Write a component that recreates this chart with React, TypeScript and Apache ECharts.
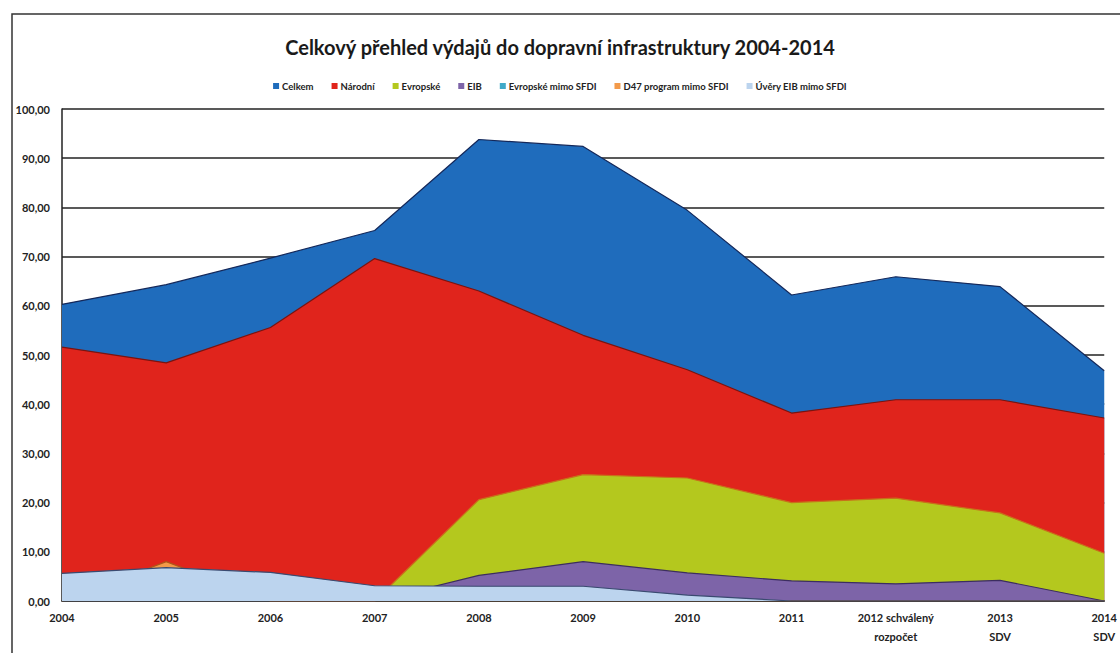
import React, { useEffect, useRef } from "react";
import * as echarts from "echarts";

const categories = ["2004", "2005", "2006", "2007", "2008", "2009", "2010", "2011", "2012 schválený\nrozpočet", "2013\nSDV", "2014\nSDV"];
const seriesNames = ["Celkem", "Národní", "Evropské", "EIB", "Evropské mimo SFDI", "D47 program mimo SFDI", "Úvěry EIB mimo SFDI"];
const celkem = [60.3, 64.3, 69.7, 75.3, 93.8, 92.4, 79.4, 62.2, 65.9, 63.9, 46.8];
const narodni = [51.6, 48.4, 55.6, 69.6, 63.0, 54.0, 47.0, 38.2, 40.9, 40.9, 37.2];
const evropske = [0, 0, 0, 0, 20.6, 25.7, 25.0, 20.0, 20.9, 17.9, 9.7];
const eib = [0, 0, 0, 0, 5.2, 8.0, 5.7, 4.1, 3.5, 4.2, 0];
const evropskeMimo = [0, 0, 0, 0, 0, 0, 0, 0, 0, 0, 0];
const d47 = [0, 8.0, 0, 0, 0, 0, 0, 0, 0, 0, 0];
const uvery = [5.6, 6.8, 5.8, 3.1, 3.0, 3.0, 1.2, 0, 0, 0, 0];
const yTicks = [0, 10, 20, 30, 40, 50, 60, 70, 80, 90, 100];

const fills = ["#1f6cbc", "#e0241c", "#b4c81e", "#7d64a8", "#3fa9c9", "#f39a4a", "#bcd4ee"];
const edges = ["#14285a", "#7a1410", "#c8701a", "#3c2d60", "#1f5a70", "#b0561a", "#3a4a70"];
const dataSets = [celkem, narodni, evropske, eib, evropskeMimo, d47, uvery];

const FONT = "Lato, 'Open Sans', sans-serif";

export default function App() {
  const ref = useRef<HTMLDivElement>(null);
  useEffect(() => {
    if (!ref.current) return;
    const chart = echarts.init(ref.current, undefined, { renderer: "svg" });
    chart.setOption({
      animation: false,
      backgroundColor: "#ffffff",
      title: {
        text: "Celkový přehled výdajů do dopravní infrastruktury 2004-2014",
        left: "center",
        top: 32,
        textStyle: { fontFamily: FONT, fontSize: 20, fontWeight: "bold", color: "#1a1a1a" },
      },
      legend: {
        top: 76,
        left: "center",
        icon: "rect",
        itemWidth: 6,
        itemHeight: 6,
        itemGap: 18,
        data: seriesNames,
        textStyle: { fontFamily: FONT, fontSize: 9.5, fontWeight: "bold", color: "#222", padding: [0, 0, 0, -2] },
      },
      graphic: [
        {
          type: "rect",
          shape: { x: 12, y: 14, width: 1130, height: 680 },
          style: { fill: "none", stroke: "#333", lineWidth: 1.5 },
          silent: true,
          z: -1,
        },
      ],
      grid: { left: 62, right: 12, top: 109, bottom: 52 },
      xAxis: {
        type: "category",
        data: categories,
        boundaryGap: false,
        axisLine: { show: true, lineStyle: { color: "#222", width: 1.5 } },
        axisTick: { show: false },
        axisLabel: {
          fontFamily: FONT,
          fontSize: 11,
          fontWeight: "bold",
          color: "#222",
          margin: 7,
          lineHeight: 19,
          interval: 0,
        },
      },
      yAxis: {
        type: "value",
        min: 0,
        max: 100,
        interval: 10,
        axisLine: { show: true, lineStyle: { color: "#222", width: 1.5 } },
        axisTick: { show: false },
        splitLine: { show: true, lineStyle: { color: "#222", width: 1.5 } },
        axisLabel: {
          fontFamily: FONT,
          fontSize: 11,
          fontWeight: "bold",
          color: "#222",
          margin: 12,
          formatter: (v: number) => (yTicks.includes(v) ? v.toFixed(2).replace(".", ",") : ""),
        },
      },
      series: seriesNames.map((name, i) => ({
        name,
        type: "line",
        data: dataSets[i],
        showSymbol: false,
        symbol: "none",
        color: fills[i],
        lineStyle: { color: edges[i], width: 1.2 },
        areaStyle: { color: fills[i], opacity: 1 },
        z: 2 + i,
      })),
    });
    return () => chart.dispose();
  }, []);
  return <div ref={ref} style={{ position: "fixed", left: 0, top: 0, width: 1120, height: 653 }} />;
}
